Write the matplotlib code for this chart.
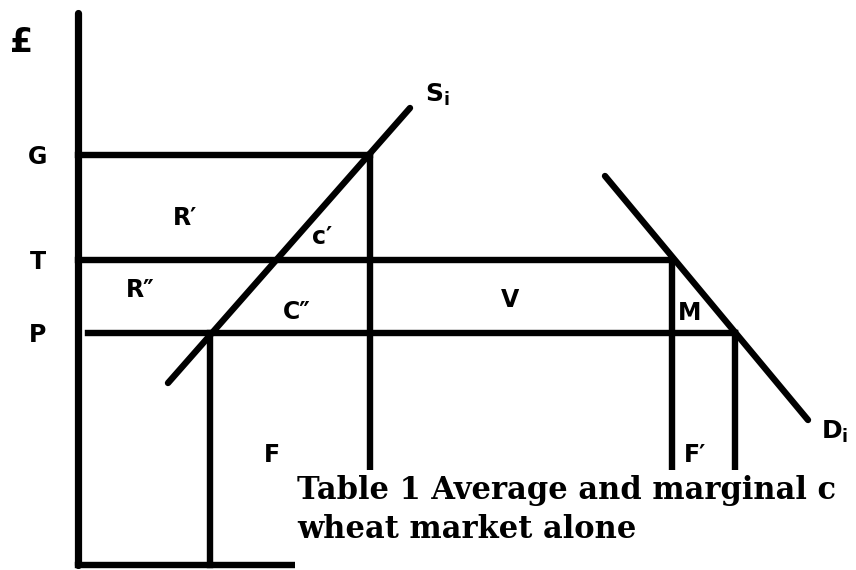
import matplotlib.pyplot as plt
from matplotlib.patches import Rectangle

# price levels (vertical, measured from the quantity axis)
price_names = ["G", "T", "P"]
price_vals = [410, 305, 232]

# supply curve S_i and demand curve D_i (two end points each)
supply_q = [90, 332]
supply_p = [182, 457]
demand_q = [527, 730]
demand_p = [389, 145]

# quantities where the price lines end / verticals drop
q_supply_at_G = 292
q_supply_at_P = 132
q_demand_at_T = 594
q_demand_at_P = 657
p_line_start = 10

# area labels: (text, q, p)
area_labels = [("R′", 107, 347), ("c′", 244, 328), ("R″", 62, 275),
               ("C″", 219, 253), ("V", 432, 265), ("M", 612, 252),
               ("F", 194, 110), ("F′", 617, 110)]

lw = 4.6
fig = plt.figure(figsize=(8.56, 5.70), dpi=100)
ax = fig.add_axes([0, 0, 1, 1])
ax.set_xlim(-78, 778)
ax.set_ylim(-5, 565)
ax.axis("off")

# axes
ax.plot([0, 0], [0, 552], color="black", lw=lw + 0.6, solid_capstyle="round")
ax.plot([0, 700], [0, 0], color="black", lw=lw)

# price lines
G, T, P = price_vals
ax.plot([0, q_supply_at_G], [G, G], color="black", lw=lw)
ax.plot([0, q_demand_at_T], [T, T], color="black", lw=lw)
ax.plot([p_line_start, q_demand_at_P], [P, P], color="black", lw=lw)

# verticals
ax.plot([q_supply_at_G, q_supply_at_G], [0, G], color="black", lw=lw)
ax.plot([q_supply_at_P, q_supply_at_P], [0, P], color="black", lw=lw)
ax.plot([q_demand_at_T, q_demand_at_T], [0, T], color="black", lw=lw)
ax.plot([q_demand_at_P, q_demand_at_P], [0, P], color="black", lw=lw)

# curves
ax.plot(supply_q, supply_p, color="black", lw=lw, solid_capstyle="round")
ax.plot(demand_q, demand_p, color="black", lw=lw, solid_capstyle="round")

# labels
lab = dict(fontsize=17, fontweight="bold", ha="center", va="center", family="DejaVu Sans")
ax.text(-56, 522, "£", fontsize=24, fontweight="bold", ha="center", va="center")
for name, v in zip(price_names, price_vals):
    ax.text(-40, v - 2, name, **lab)
for t, q, p in area_labels:
    ax.text(q, p, t, **lab)
ax.text(359, 470, r"$\mathbf{S_i}$", fontsize=18, ha="center", va="center")
ax.text(757, 133, r"$\mathbf{D_i}$", fontsize=18, ha="center", va="center")

# caption box pasted over the lower right
ax.add_patch(Rectangle((217, -5), 600, 100, facecolor="white", edgecolor="none", zorder=5))
cap = dict(fontsize=22, fontweight="bold", family="DejaVu Serif",
           ha="left", va="center", zorder=6)
ax.text(219, 75, "Table 1 Average and marginal c", **cap)
ax.text(219, 35, "wheat market alone", **cap)

fig.savefig("out.png", dpi=100)
